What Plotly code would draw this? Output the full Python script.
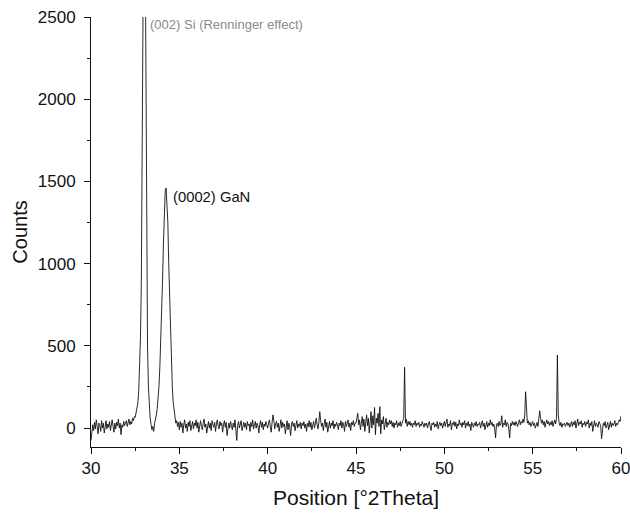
import numpy as np
import plotly.graph_objects as go

# 2Theta scan: 30.00 .. 60.00 deg, step 0.05
theta_start = 30.0
theta_step = 0.05

counts_rows = [
    [-75, -30, 20, -15, 35, -5, 50, 10, -35, 30, 15, -20, 45, 0, 30, -30, 20, 45, -5, 25],          # 30
    [5, 40, -15, 25, 50, 10, -25, 30, -5, 35, 15, 55, 0, 30, -40, 20, 5, 40, 15, 30],               # 31
    [45, 10, 35, 55, 20, 40, 25, 60, 45, 70, 65, 90, 110, 150, 220, 350, 550, 900, 1600, 2700],     # 32
    [3500, 3300, 2000, 1000, 500, 250, 130, 60, 20, -10, 10, -20, 30, 50, 80, 120, 180, 260, 380, 530],  # 33
    [700, 900, 1120, 1320, 1440, 1460, 1380, 1250, 1000, 780, 580, 400, 260, 160, 100, 60, 30, 45, 10, 35],  # 34
    [-10, 40, 5, 30, -30, 20, 50, 0, 25, -20, 35, 10, 45, -15, 20, 40, -5, 30, 15, 50],             # 35
    [0, 35, -25, 20, 45, 10, -10, 30, 55, 5, 25, -30, 15, 40, 0, 30, -15, 45, 20, 5],               # 36
    [35, -20, 25, 50, 10, -5, 40, 15, 30, -25, 20, 45, 5, 35, -45, 10, 30, 0, 40, 15],              # 37
    [-10, 30, 5, 50, -20, -75, 15, 40, 0, 25, 45, -15, 20, 35, 5, 30, -10, 40, 15, 25],             # 38
    [-20, 35, 10, 50, -5, 25, 40, 0, 30, 15, -30, 20, 45, 5, 35, -10, 25, 10, 40, 20],              # 39
    [0, 30, 50, 10, -25, 35, 80, 45, -5, 25, 40, 5, 30, -20, 15, 50, 0, 35, 10, 25],                # 40
    [-35, 20, 45, -10, 30, 5, -45, 25, 40, 10, 30, -15, 20, 45, 0, 25, 10, 35, -5, 30],             # 41
    [15, 40, 0, 25, -20, 30, 10, 45, 5, 35, -10, 20, 40, 0, 30, 60, 20, -5, 35, 100],               # 42
    [45, 10, 30, -15, 25, 55, 5, 35, -25, 20, 40, 0, 30, 15, 45, -5, 25, 10, 35, 20],               # 43
    [-10, 30, 15, 45, 0, 35, 20, -20, 40, 10, 25, 50, 5, 30, -15, 35, 20, 45, 10, 30],              # 44
    [30, 60, 90, 20, 50, -10, 40, 70, 10, 55, -20, 45, 80, 15, 60, -30, 50, 100, 0, 75],            # 45
    [20, 125, -40, 60, 30, 90, 10, 130, -35, 50, 25, 70, -10, 40, 60, 5, 35, 20, 50, 25],           # 46
    [45, 10, 35, 0, 30, 20, 45, 5, 30, 15, 40, 10, 25, 45, 60, 370, 30, 55, 10, 40],                # 47
    [20, 40, 15, 30, 5, 30, 20, 45, 10, 30, 20, 35, 5, 25, 15, 40, 20, 5, 30, 15],                  # 48
    [30, 0, 25, 40, 10, -15, 30, 20, 35, 5, 25, 10, 40, -5, 20, 35, 15, 30, 0, 25],                 # 49
    [40, 10, 30, 55, 5, 25, 15, 45, -10, 30, 20, 40, 10, 35, -5, 25, 15, 50, 20, 30],               # 50
    [5, 35, 20, 45, 0, 30, 15, 40, 10, 25, -15, 35, 20, 5, 30, 15, 40, 10, 25, 20],                 # 51
    [35, 0, 25, 45, 10, 30, -10, 20, 40, 5, 30, 15, 50, 20, 35, 10, 25, -5, -60, 20],               # 52
    [30, 10, 40, 15, 25, 75, 5, 30, 20, 50, 10, 35, 25, -5, -60, 30, 15, 40, 20, 35],               # 53
    [15, 40, 25, 10, 35, 50, 20, 40, 30, 55, 35, 80, 221, 60, 30, 45, 20, 35, 10, 25],              # 54
    [40, 15, 30, 0, 25, 35, 10, 45, 105, 60, 30, 50, 20, 40, 5, 30, 50, 25, 40, 15],                # 55
    [35, 20, 45, 10, 30, 50, 25, 60, 444, 80, 30, 15, 35, 5, 25, 20, 30, 10, 25, 35],               # 56
    [15, 30, 5, 25, 40, 10, 35, 20, 45, 0, 30, 55, 15, 35, 25, 45, 5, 30, 20, 40],                  # 57
    [10, 35, 25, 50, 0, 30, 15, 40, -20, 25, 45, 10, 30, 20, 5, 40, 25, 15, -65, 10],               # 58
    [30, 15, 40, 0, 25, 35, -10, 20, 40, 5, 30, 15, 25, 45, 10, 30, 20, 35, 50, 40],                # 59
    [75],                                                                                           # 60
]
counts = [v for row in counts_rows for v in row]
theta = theta_start + theta_step * np.arange(len(counts))

x_ticks = [30, 35, 40, 45, 50, 55, 60]
y_ticks = [0, 500, 1000, 1500, 2000, 2500]

label_si = "(002) Si (Renninger effect)"
label_gan = "(0002) GaN"

font_family = "Liberation Sans, Arial, sans-serif"

fig = go.Figure()
fig.add_trace(go.Scatter(
    x=theta, y=counts, mode="lines",
    line=dict(color="#111111", width=0.9),
    showlegend=False, hoverinfo="skip", cliponaxis=True,
))

fig.add_annotation(x=33.2, y=2457, text=label_si, showarrow=False,
                   xanchor="left", yanchor="middle",
                   font=dict(family=font_family, size=13, color="#8a8a8a"))
fig.add_annotation(x=34.5, y=1405, text=label_gan, showarrow=False,
                   xanchor="left", yanchor="middle",
                   font=dict(family=font_family, size=14.8, color="#111111"))

fig.update_layout(
    width=630, height=516,
    margin=dict(l=91, r=9, t=17, b=69, autoexpand=False),
    paper_bgcolor="white", plot_bgcolor="white",
    font=dict(family=font_family, color="#111111"),
    xaxis=dict(
        range=[30, 60], tickvals=x_ticks, ticks="outside", ticklen=6, tickwidth=1,
        tickcolor="#111", showline=True, linecolor="#111", linewidth=1,
        showgrid=False, zeroline=False, automargin=False,
        ticklabeloverflow="allow",
        tickfont=dict(size=17),
        title=dict(text="Position [°2Theta]", font=dict(size=21), standoff=12),
        minor=dict(ticks="outside", dtick=2.5, ticklen=3, tickcolor="#111"),
    ),
    yaxis=dict(
        range=[-115, 2500], tickvals=y_ticks, ticks="outside", ticklen=6, tickwidth=1,
        tickcolor="#111", showline=True, linecolor="#111", linewidth=1,
        showgrid=False, zeroline=False, automargin=True,
        ticklabelstandoff=5,
        tickfont=dict(size=17),
        title=dict(text="Counts", font=dict(size=20), standoff=4),
        minor=dict(ticks="outside", dtick=250, tick0=0, ticklen=3, tickcolor="#111"),
    ),
)

fig.write_html("out.html", config={"displayModeBar": False},
               post_script="document.body.style.margin='0px';document.body.style.overflow='hidden';")
